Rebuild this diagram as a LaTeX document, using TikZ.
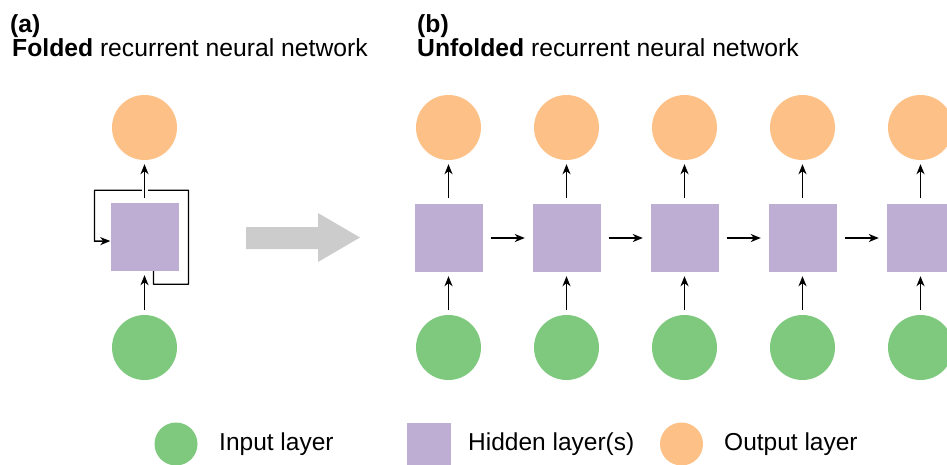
\documentclass[tikz,border=0pt]{standalone}
\usepackage{fontspec}
\setmainfont{Liberation Sans}
\usetikzlibrary{arrows.meta,calc,positioning}
\definecolor{inp}{HTML}{7FC97F}
\definecolor{hid}{HTML}{BEAED4}
\definecolor{outp}{HTML}{FDC086}
\definecolor{bigarr}{HTML}{CCCCCC}
\tikzset{
 arrtip/.style={line width=1.4pt,-{Stealth[length=10pt,width=8pt,inset=3pt]}},
 conn/.style={arrtip,shorten >=4pt,shorten <=5pt}}
\begin{document}
\begin{tikzpicture}[x=1pt,y=-1pt,line join=round,
 incirc/.style={circle,fill=inp,minimum size=65pt,inner sep=0pt},
 outcirc/.style={circle,fill=outp,minimum size=65pt,inner sep=0pt},
 hidbox/.style={fill=hid,minimum size=68pt,inner sep=0pt},
 ttl/.style={anchor=base west,inner sep=0pt,font=\fontsize{24.7}{28}\selectfont},
 leg/.style={anchor=base west,inner sep=0pt,font=\fontsize{24.5}{28}\selectfont}]
\clip (0,0) rectangle (947,464);
\useasboundingbox (0,0) rectangle (947,464);
% titles
\node[ttl] (ta) at (10,32) {\textbf{(a)}};
\node[ttl] (fa) at (12,56) {\textbf{Folded} recurrent neural network};
\node[ttl] (tb) at (417,32) {\textbf{(b)}};
\node[ttl] (fb) at (417,56) {\textbf{Unfolded} recurrent neural network};
% folded network
\node[outcirc] (o0) at (144.5,127.5) {};
\node[hidbox] (h0) at (144.5,237) {};
\node[incirc] (i0) at (144.5,347.5) {};
\draw[conn] (i0) -- (h0);
\draw[arrtip] ([xshift=9pt]h0.south) -- ++(0,13) -- ++(35,0) -- ++(0,-94) -- ++(-94,0) -- ++(0,51) -- ([yshift=-4pt]h0.west);
\draw[conn,preaction={draw,white,line width=6pt,-}] (h0) -- (o0);
% big arrow
\fill[bigarr] (246,227) -- (318,227) -- (318,213) -- (360,237.5) -- (318,262) -- (318,249) -- (246,249) -- cycle;
% unfolded network
\foreach \i/\x in {1/448.5,2/566.5,3/684.5,4/802.5,5/920.5}{
\node[outcirc] (o\i) at (\x,127.5) {};
\node[hidbox] (h\i) at (\x,238) {};
\node[incirc] (i\i) at (\x,347.5) {};
\draw[conn] (i\i) -- (h\i);
\draw[conn,shorten <=6pt] (h\i) -- (o\i);}
\foreach \i/\j in {1/2,2/3,3/4,4/5}{\draw[conn,shorten <=8pt,shorten >=7.5pt] (h\i) -- (h\j);}
% legend
\node[incirc,minimum size=43pt] (li) at (176,444) {};
\node[leg] (lti) at (219,450) {Input layer};
\node[hidbox,minimum size=44pt] (lh) at (429,445) {};
\node[leg] (lth) at (468,450) {Hidden layer(s)};
\node[outcirc,minimum size=43pt] (lo) at (681.5,444) {};
\node[leg] (lto) at (724,450) {Output layer};
\end{tikzpicture}
\end{document}
